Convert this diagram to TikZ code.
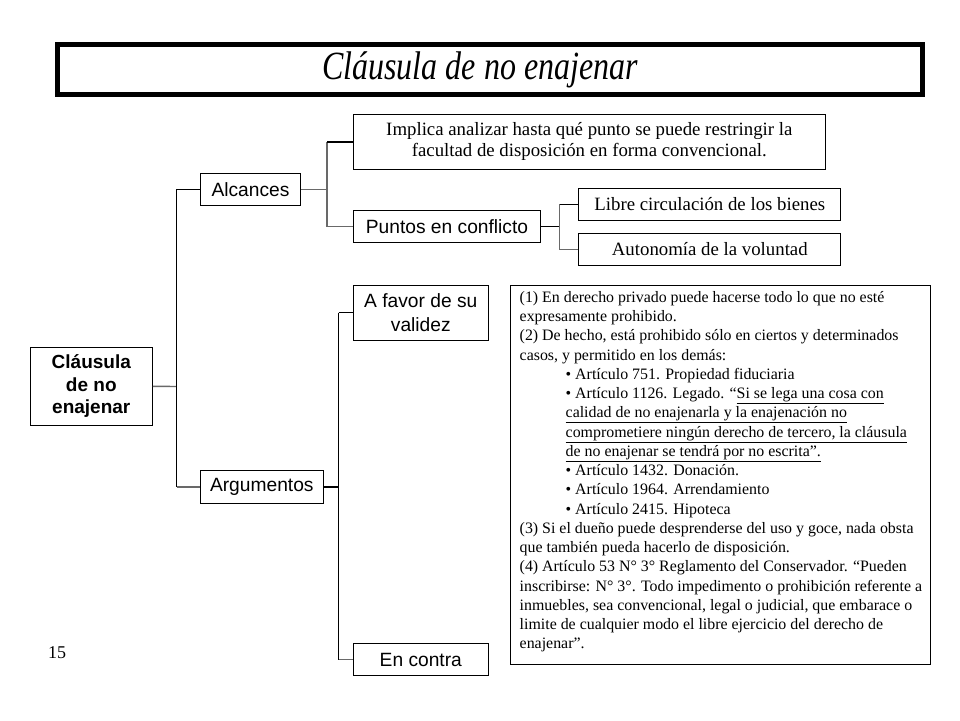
\documentclass[tikz,border=0pt]{standalone}
\usepackage{fontspec}
\setmainfont{Liberation Serif}
\newfontfamily\arialf{Liberation Sans}
\definecolor{linegray}{RGB}{105,105,105}
\begin{document}
\begin{tikzpicture}[x=1pt,y=-1pt,
  box/.style={draw=black, line width=1pt, inner sep=0pt, align=center},
  sbox/.style={box, font=\arialf\fontsize{19.2}{24}\selectfont},
  tbox/.style={box, font=\fontsize{18.8}{21}\selectfont},
  conn/.style={line width=1.4pt, draw=black},
  conng/.style={line width=1.4pt, draw=linegray},
]
\useasboundingbox (0,0) rectangle (960,720);

% title
\node[draw=black, line width=5pt, minimum width=865pt, minimum height=50pt, inner sep=0pt] (titlebox) at (490,69.5) {};
\node[inner sep=0pt] (title) at (480,70) {\scalebox{0.8}[1]{\fontsize{40}{40}\selectfont\itshape Cláusula de no enajenar}};

% nodes
\node[box, font=\arialf\bfseries\fontsize{19}{22.5}\selectfont, minimum width=122pt, minimum height=78pt] (root) at (91.3,386.3) {Cláusula\\de no\\enajenar};
\node[sbox, minimum width=100.4pt, minimum height=32pt] (alc) at (250.5,189.3) {Alcances};
\node[sbox, minimum width=123pt, minimum height=32.6pt] (arg) at (261.8,487) {Argumentos};
\node[tbox, minimum width=472pt, minimum height=55pt] (impl) at (589.3,141.8) {Implica analizar hasta qué punto se puede restringir la\\facultad de disposición en forma convencional.};
\node[sbox, minimum width=187.4pt, minimum height=32pt] (pun) at (447,226.5) {Puntos en conflicto};
\node[tbox, minimum width=261.7pt, minimum height=31.5pt] (lib) at (709.8,204.3) {Libre circulación de los bienes};
\node[tbox, minimum width=261.7pt, minimum height=32.4pt] (aut) at (709.8,249.5) {Autonomía de la voluntad};
\node[sbox, minimum width=135pt, minimum height=55pt] (fav) at (420.8,312.5) {A favor de su\\validez};
\node[sbox, minimum width=135pt, minimum height=31.5pt] (con) at (420.8,659.7) {En contra};
\node[box, minimum width=420.3pt, minimum height=379.3pt] (argbox) at (720.15,474.65) {};
\node[anchor=north west, inner sep=0pt, align=left, font=\fontsize{15.9}{19.25}\selectfont] (argtext) at (519.5,291) {%
(1) En derecho privado puede hacerse todo lo que no esté\\
expresamente prohibido.\\
(2) De hecho, está prohibido sólo en ciertos y determinados\\
casos, y permitido en los demás:\\
\hspace*{46pt}• Artículo 751. Propiedad fiduciaria\\
\hspace*{46pt}• Artículo 1126. Legado. “\underline{Si se lega una cosa con}\\
\hspace*{46pt}\underline{calidad de no enajenarla y la enajenación no}\\
\hspace*{46pt}\underline{comprometiere ningún derecho de tercero, la cláusula}\\
\hspace*{46pt}\underline{de no enajenar se tendrá por no escrita”.}\\
\hspace*{46pt}• Artículo 1432. Donación.\\
\hspace*{46pt}• Artículo 1964. Arrendamiento\\
\hspace*{46pt}• Artículo 2415. Hipoteca\\
(3) Si el dueño puede desprenderse del uso y goce, nada obsta\\
que también pueda hacerlo de disposición.\\
(4) Artículo 53 N° 3° Reglamento del Conservador. “Pueden\\
inscribirse: N° 3°. Todo impedimento o prohibición referente a\\
inmuebles, sea convencional, legal o judicial, que embarace o\\
limite de cualquier modo el libre ejercicio del derecho de\\
enajenar”.};
\node[inner sep=0pt, font=\fontsize{18}{18}\selectfont] (pg) at (57,653) {15};

% connectors
\coordinate (j1) at (176.5,386.5);
\coordinate (j2) at (327,189.3);
\coordinate (j3) at (559.5,226.5);
\coordinate (j4) at (338.5,487);
\draw[conng] (root.east) -- (j1);
\draw[conn] (j1 |- alc.west) -- (j1 |- arg.west);
\draw[conn] (j1 |- alc.west) -- (alc.west);
\draw[conng] (j1 |- arg.west) -- (arg.west);

\draw[conng] (alc.east) -- (j2);
\draw[conng] (j2 |- impl.west) -- (j2 |- pun.west);
\draw[conn] (j2 |- impl.west) -- (impl.west);
\draw[conng, line width=1.8pt] (j2 |- pun.west) -- (pun.west);

\draw[conn] (pun.east) -- (j3);
\draw[conng] (j3 |- lib.west) -- (j3 |- aut.west);
\draw[conn] (j3 |- lib.west) -- (lib.west);
\draw[conng] (j3 |- aut.west) -- (aut.west);

\draw[conn, line width=1.8pt] (arg.east) -- (j4);
\draw[conn] (j4 |- fav.west) -- (j4 |- con.west);
\draw[conn] (j4 |- fav.west) -- (fav.west);
\draw[conng] (j4 |- con.west) -- (con.west);
\end{tikzpicture}
\end{document}
